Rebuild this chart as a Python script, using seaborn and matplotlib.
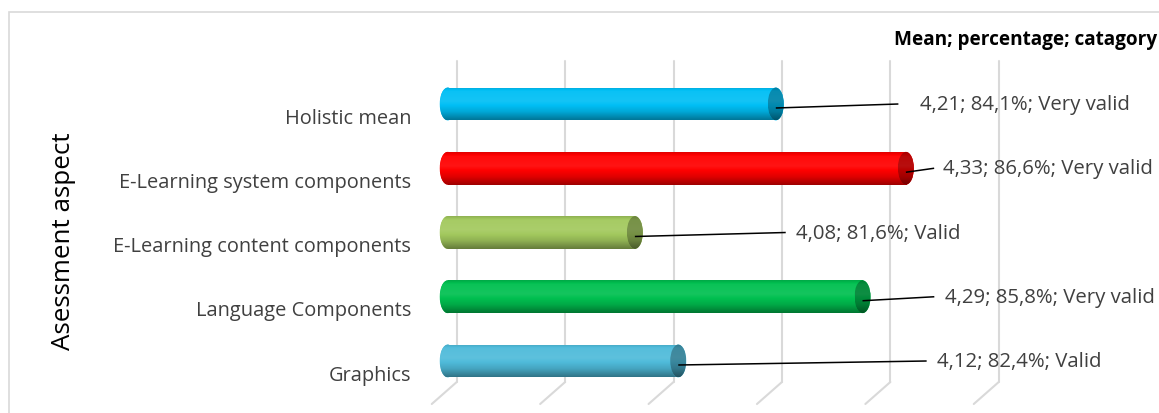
import numpy as np
import pandas as pd
import matplotlib
matplotlib.use("Agg")
import matplotlib.pyplot as plt
import matplotlib.transforms as mtransforms
from matplotlib.patches import Ellipse, Rectangle
from matplotlib.colors import to_rgb
import seaborn as sns

# ---- data -------------------------------------------------------------
categories = [
    "Holistic mean",
    "E-Learning system components",
    "E-Learning content components",
    "Language Components",
    "Graphics",
]
means = [4.21, 4.33, 4.08, 4.29, 4.12]
percentages = [84.1, 86.6, 81.6, 85.8, 82.4]
verdicts = ["Very valid", "Very valid", "Valid", "Very valid", "Valid"]
bar_colors = ["#00BFF5", "#FF0000", "#A3C95E", "#00C050", "#4FBBDA"]

# where the value labels sit (x in data units) and the gap left before them (px)
label_x = [4.336, 4.357, 4.221, 4.359, 4.351]
label_gap_px = [22, 9, 10, 11, 10]

AXIS_START = 3.9
GRID_TICKS = [3.9, 4.0, 4.1, 4.2, 4.3, 4.4]

# ---- figure -----------------------------------------------------------
W, H, DPI = 1159, 414, 100
sns.set_theme(style="white")
plt.rcParams["font.family"] = ["Open Sans", "DejaVu Sans"]

fig = plt.figure(figsize=(W / DPI, H / DPI), dpi=DPI)
fig.patch.set_facecolor("white")

# outer chart frame
fig.patches.append(Rectangle((9 / W, -0.1), 1.2, 1 - 13 / H + 0.1,
                             transform=fig.transFigure, fill=False,
                             edgecolor="#D9D9D9", linewidth=1.2))

ax_left, ax_right, ax_top, ax_bottom = 425, 1150, 62, 383
ax = fig.add_axes([ax_left / W, 1 - ax_bottom / H,
                   (ax_right - ax_left) / W, (ax_bottom - ax_top) / H])

df = pd.DataFrame({"aspect": categories, "mean": means})
sns.barplot(data=df, x="mean", y="aspect", hue="aspect", palette=bar_colors,
            width=0.5, legend=False, ax=ax, orient="h", zorder=3)

px_per_unit = 1084.0
x0 = 3.879
x1 = x0 + (ax_right - ax_left) / px_per_unit
y_px_per_unit = 64.25
ylim = (4 + (ax_bottom - 362) / y_px_per_unit, -(105 - ax_top) / y_px_per_unit)


def shade(rgb, f):
    rgb = np.array(rgb)
    if f >= 1:
        return rgb + (1 - rgb) * (f - 1)
    return rgb * f


def gradient(rgb, n=64):
    t = np.linspace(0, 1, n)
    knots_t = [0.0, 0.12, 0.42, 0.75, 1.0]
    knots_f = [0.88, 1.04, 1.08, 0.88, 0.62]
    f = np.interp(t, knots_t, knots_f)
    return np.array([shade(rgb, v) for v in f]).reshape(n, 1, 3).clip(0, 1)


cap_w = 16 / px_per_unit
half_h = 0.255
for i, (patch, val, col) in enumerate(zip(ax.patches, means, bar_colors)):
    rgb = to_rgb(col)
    yc = patch.get_y() + patch.get_height() / 2
    # body of the cylinder starts at the axis start; its far end is the end face
    patch.set_x(AXIS_START)
    patch.set_width(val - AXIS_START - cap_w / 2)
    patch.set_y(yc - half_h)
    patch.set_height(2 * half_h)
    patch.set_edgecolor("none")
    grad = gradient(rgb)

    # rounded near end
    left_cap = Ellipse((AXIS_START, yc), cap_w, 2 * half_h,
                       facecolor=rgb, edgecolor="none", zorder=2.9)
    ax.add_patch(left_cap)
    im = ax.imshow(grad, extent=(AXIS_START - cap_w / 2, AXIS_START + cap_w / 2,
                                 yc + half_h, yc - half_h),
                   aspect="auto", interpolation="bilinear", zorder=2.95)
    im.set_clip_path(left_cap)

    im = ax.imshow(grad, extent=(AXIS_START, val - cap_w / 2,
                                 yc + half_h, yc - half_h),
                   aspect="auto", interpolation="bilinear", zorder=3.1)
    im.set_clip_path(patch)

    # end face
    end_face = Ellipse((val - cap_w / 2, yc), cap_w, 2 * half_h,
                       facecolor=rgb, edgecolor="none", zorder=3.2)
    ax.add_patch(end_face)
    im = ax.imshow(np.array([shade(g, 0.72) for g in grad[:, 0, :]]).reshape(-1, 1, 3),
                   extent=(val - cap_w, val, yc + half_h, yc - half_h),
                   aspect="auto", interpolation="bilinear", zorder=3.3)
    im.set_clip_path(end_face)

    # value label and leader line
    text = f"{val:.2f}".replace(".", ",") + "; " + \
        f"{percentages[i]:.1f}".replace(".", ",") + "%; " + verdicts[i]
    ax.text(label_x[i], yc, text, fontsize=14.7, color="#404040",
            ha="left", va="center", zorder=5)
    line_end = label_x[i] - label_gap_px[i] / px_per_unit
    ax.plot([val - 8 / px_per_unit, line_end],
            [yc + 4 / y_px_per_unit, yc], color="black", lw=1.1, zorder=4,
            solid_capstyle="butt")

ax.set_xlim(x0, x1)
ax.set_ylim(*ylim)

# back-wall gridlines and their floor edges
back = mtransforms.ScaledTranslation(9 / DPI, 0, fig.dpi_scale_trans)
for gx in GRID_TICKS:
    ax.plot([gx, gx], [ylim[1], ylim[0]], color="#D9D9D9", lw=1.5,
            transform=ax.transData + back, zorder=1, clip_on=False)
    ax.plot([gx + 9 / px_per_unit, gx - 16 / px_per_unit],
            [ylim[0], ylim[0] + 22 / y_px_per_unit],
            color="#D9D9D9", lw=1.5, zorder=1, clip_on=False)

for s in ax.spines.values():
    s.set_visible(False)
ax.set_xticks([])
ax.set_xlabel("")
ax.tick_params(axis="y", length=0, pad=10, labelsize=14.4, labelcolor="#404040")
down = mtransforms.ScaledTranslation(0, -11 / DPI, fig.dpi_scale_trans)
for lab in ax.get_yticklabels():
    lab.set_transform(lab.get_transform() + down)
ax.set_ylabel("")
ax.grid(False)

fig.text(63 / W, 1 - 241 / H, "Asessment aspect", rotation=90, fontsize=18.7,
         color="black", ha="center", va="center")
fig.text(1157 / W, 1 - 40 / H, "Mean; percentage; catagory", fontsize=13.7,
         fontweight="bold", color="black", ha="right", va="center")

fig.savefig("out.png", dpi=DPI, facecolor="white")
